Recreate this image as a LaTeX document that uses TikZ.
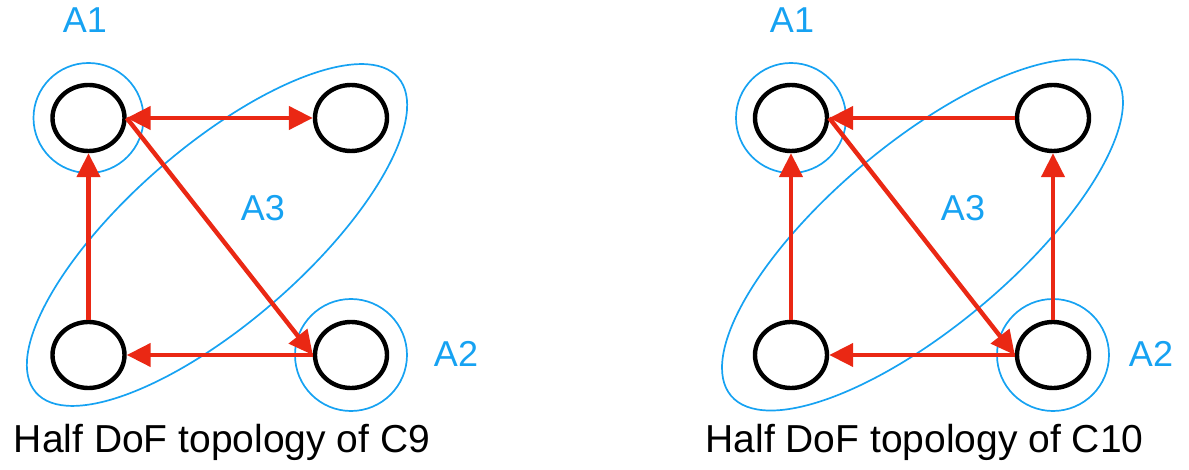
\documentclass[tikz,border=0pt]{standalone}
\usepackage{fontspec}
\setmainfont{Liberation Sans}
\usetikzlibrary{shapes.geometric,arrows.meta}
\definecolor{grpblue}{RGB}{22,162,242}
\definecolor{arrred}{RGB}{234,40,20}
\tikzset{
  dof/.style={ellipse,draw=black,line width=4.4pt,minimum width=72pt,minimum height=66pt,inner sep=0pt},
  grp/.style={draw=grpblue,line width=1.7pt},
  grplabel/.style={text=grpblue,font=\fontsize{36}{40}\selectfont,inner sep=0pt},
  link/.style={draw=arrred,line width=4.4pt,-{Triangle[length=24pt,width=23pt]}},
  duallink/.style={draw=arrred,line width=4.4pt,{Triangle[length=24pt,width=23pt]}-{Triangle[length=24pt,width=23pt]}},
  caption/.style={font=\fontsize{39}{44}\selectfont,inner sep=0pt,anchor=base}
}
\begin{document}
\begin{tikzpicture}[x=1pt,y=1pt]
\useasboundingbox (0,0) rectangle (1189,469);
% ---------- left: C9 ----------
\coordinate (lc) at (217,234);
\draw[grp,rotate around={41:(lc)}] (lc) ellipse [x radius=240, y radius=88];
\node[dof] (ltl) at (88.5,351) {};
\node[dof] (ltr) at (351,351) {};
\node[dof] (lbl) at (88.5,114) {};
\node[dof] (lbr) at (351,114) {};
\draw[grp] (ltl.center) circle [radius=55];
\draw[grp] (lbr.center) circle [radius=56];
\draw[duallink] (ltl.east) -- (ltr.west);
\draw[link] (lbl.north) -- (ltl.south);
\draw[link] (ltl.east) -- (lbr.west);
\draw[link] (lbr.west) -- (lbl.east);
\node[grplabel] (la1) at (85,449) {A1};
\node[grplabel] (la3) at (263,261) {A3};
\node[grplabel] (la2) at (456,115) {A2};
\node[caption] (lcap) at (222,17) {Half DoF topology of C9};
% ---------- right: C10 ----------
\coordinate (rc) at (922.5,234);
\draw[grp,rotate around={40:(rc)}] (rc) ellipse [x radius=250, y radius=92];
\node[dof] (rtl) at (791,351) {};
\node[dof] (rtr) at (1053,351) {};
\node[dof] (rbl) at (791,114) {};
\node[dof] (rbr) at (1053,114) {};
\draw[grp] (rtl.center) circle [radius=55];
\draw[grp] (rbr.center) circle [radius=56];
\draw[link] (rtr.west) -- (rtl.east);
\draw[link] (rbl.north) -- (rtl.south);
\draw[link] (rbr.north) -- (rtr.south);
\draw[link] (rtl.east) -- (rbr.west);
\draw[link] (rbr.west) -- (rbl.east);
\node[grplabel] (ra1) at (792,449) {A1};
\node[grplabel] (ra3) at (963,261) {A3};
\node[grplabel] (ra2) at (1151,115) {A2};
\node[caption] (rcap) at (924.5,17) {Half DoF topology of C10};
\end{tikzpicture}
\end{document}
